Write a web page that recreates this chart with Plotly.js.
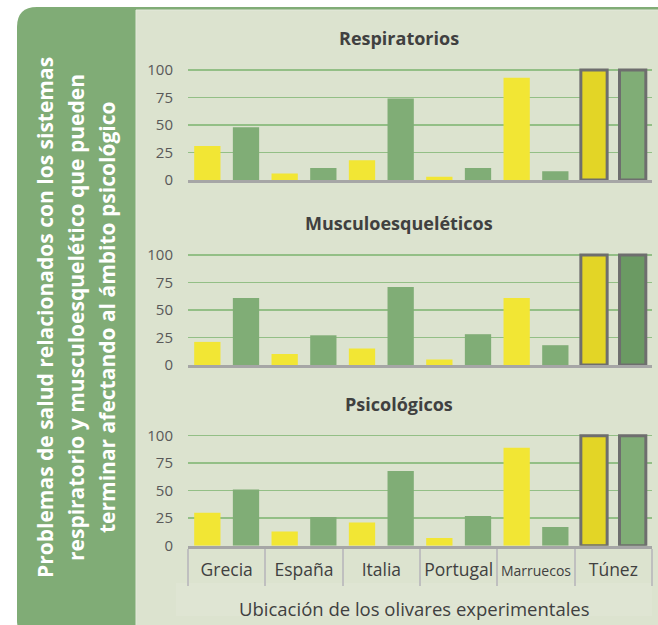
<!DOCTYPE html>
<html>
<head>
<meta charset="utf-8">
<script src="https://cdn.plot.ly/plotly-3.0.1.min.js"></script>
<style>html,body{margin:0;padding:0;background:#fff;}#chart{width:658px;height:625px;}</style>
</head>
<body>
<div id="chart"></div>
<script>
// ---- data ----
const countries = ['Grecia', 'España', 'Italia', 'Portugal', 'Marruecos', 'Túnez'];
const tickLabels = ['Grecia', 'España', 'Italia', 'Portugal', '<span style="font-size:14px">Marruecos</span>', 'Túnez'];
const respYellow = [31, 6, 18, 3, 93, 100];
const respGreen = [48, 11, 74, 11, 8, 100];
const muscYellow = [21, 10, 15, 5, 61, 100];
const muscGreen = [61, 27, 71, 28, 18, 100];
const psicYellow = [30, 13, 21, 7, 89, 100];
const psicGreen = [51, 26, 68, 27, 17, 100];
const panelTitles = ['Respiratorios', 'Musculoesqueléticos', 'Psicológicos'];
const xTitle = 'Ubicación de los olivares experimentales';
const sideTitle = ['Problemas de salud relacionados con los sistemas',
                   'respiratorio y musculoesquelético que pueden',
                   'terminar afectando al ámbito psicológico'];
const highlighted = 'Túnez';

// ---- style ----
const W = 658, H = 625;
const px = x => x / W;
const py = y => 1 - y / H;
const YELLOW = '#f2e634', GREEN = '#80ad76';
const YELLOW_HI = '#e3d526', GREEN_HI_MUSC = '#6b9a63';
const OUTLINE = '#6e6e6e';
const FONT = 'Open Sans, Noto Sans, sans-serif';

function barTrace(vals, base, hi, axisIdx, name) {
  const sfx = axisIdx === 1 ? '' : String(axisIdx);
  return {
    type: 'bar', x: countries, y: vals, name: name,
    xaxis: 'x' + sfx, yaxis: 'y' + sfx, showlegend: false,
    marker: {
      color: countries.map(c => c === highlighted ? hi : base),
      line: { color: OUTLINE, width: countries.map(c => c === highlighted ? 3 : 0) }
    },
    hoverinfo: 'skip'
  };
}

const data = [
  barTrace(respYellow, YELLOW, YELLOW_HI, 1, 'Serie 1'),
  barTrace(respGreen, GREEN, GREEN, 1, 'Serie 2'),
  barTrace(muscYellow, YELLOW, YELLOW_HI, 2, 'Serie 1'),
  barTrace(muscGreen, GREEN, GREEN_HI_MUSC, 2, 'Serie 2'),
  barTrace(psicYellow, YELLOW, YELLOW_HI, 3, 'Serie 1'),
  barTrace(psicGreen, GREEN, GREEN, 3, 'Serie 2')
];

// zero baselines (px) for each panel; 1.1 px per unit
const zeroY = [180, 365, 545.7];
const yMax = 102;
const pxPerUnit = 1.1;
const xDom = [px(188), px(652)];

function yAxis(i) {
  return {
    domain: [py(zeroY[i]), py(zeroY[i] - yMax * pxPerUnit)],
    range: [0, yMax], tickvals: [0, 25, 50, 75, 100],
    showgrid: true, gridcolor: '#93bf86', gridwidth: 1.5,
    zeroline: false, showline: false, ticks: '',
    ticklabelstandoff: 14,
    tickfont: { family: FONT, size: 15, color: '#595959' },
    anchor: i === 0 ? 'x' : 'x' + (i + 1), fixedrange: true
  };
}
function xAxis(i) {
  const last = i === 2;
  const ax = {
    domain: xDom, type: 'category',
    showline: true, linecolor: '#a6a6a6', linewidth: 3,
    showgrid: false, zeroline: false,
    showticklabels: last,
    anchor: i === 0 ? 'y' : 'y' + (i + 1), fixedrange: true
  };
  if (last) {
    Object.assign(ax, {
      ticks: 'outside', tickson: 'boundaries', ticklen: 37, tickwidth: 2, tickcolor: '#bfbfbf',
      tickvals: countries, ticktext: tickLabels, tickangle: 0,
      ticklabelstandoff: 6,
      tickfont: { family: FONT, size: 17.5, color: '#404040' }
    });
  } else {
    ax.ticks = '';
  }
  return ax;
}

const titleY = [38, 223, 404];
const annotations = panelTitles.map((t, i) => ({
  text: t, xref: 'paper', yref: 'paper', x: px(399), y: py(titleY[i]),
  xanchor: 'center', yanchor: 'middle', showarrow: false,
  font: { family: FONT, size: 18, color: '#404040', weight: 700 }
}));
annotations.push({
  text: xTitle, xref: 'paper', yref: 'paper', x: px(414.5), y: py(608),
  xanchor: 'center', yanchor: 'middle', showarrow: false,
  font: { family: FONT, size: 18.5, color: '#404040' }
});
const sideX = [45, 76, 107];
sideTitle.forEach((t, i) => annotations.push({
  text: t, xref: 'paper', yref: 'paper', x: px(sideX[i]), y: py(318),
  xanchor: 'center', yanchor: 'middle', textangle: -90, showarrow: false,
  font: { family: FONT, size: 21, color: '#ffffff', weight: 700 }
}));

// background decoration
const r = 20;
const L = 17, T = 7, Rr = 660, B = 640;
const panelPath = 'M ' + px(L) + ',' + py(T + r) +
  ' Q ' + px(L) + ',' + py(T) + ' ' + px(L + r) + ',' + py(T) +
  ' L ' + px(Rr) + ',' + py(T) +
  ' L ' + px(Rr) + ',' + py(B) +
  ' L ' + px(L + r) + ',' + py(B) +
  ' Q ' + px(L) + ',' + py(B) + ' ' + px(L) + ',' + py(B - r) + ' Z';
const shapes = [
  { type: 'path', xref: 'paper', yref: 'paper', path: panelPath,
    fillcolor: '#80ac76', line: { width: 0 }, layer: 'below' },
  { type: 'rect', xref: 'paper', yref: 'paper', x0: px(136), x1: px(662), y0: py(10), y1: py(640),
    fillcolor: '#dce3cf', line: { color: '#e4e9db', width: 1 }, layer: 'below' },
  { type: 'rect', xref: 'paper', yref: 'paper', x0: px(176), x1: px(652), y0: py(583), y1: py(616),
    fillcolor: '#dfe5d3', line: { width: 0 }, layer: 'below' }
];

const layout = {
  width: W, height: H, margin: { l: 0, r: 0, t: 0, b: 0 },
  paper_bgcolor: '#ffffff', plot_bgcolor: 'rgba(0,0,0,0)',
  barmode: 'group', bargap: 0, bargroupgap: 0.32,
  xaxis: xAxis(0), xaxis2: xAxis(1), xaxis3: xAxis(2),
  yaxis: yAxis(0), yaxis2: yAxis(1), yaxis3: yAxis(2),
  annotations: annotations, shapes: shapes,
  font: { family: FONT }
};

Plotly.newPlot('chart', data, layout, { displayModeBar: false, staticPlot: true });
</script>
</body>
</html>
